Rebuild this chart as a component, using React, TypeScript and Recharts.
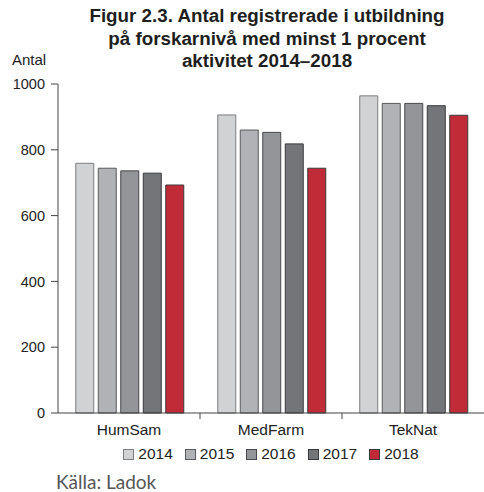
import { BarChart, Bar, XAxis, YAxis, Legend } from "recharts";

// Kategorier och värden (Antal registrerade)
const categories = ["HumSam", "MedFarm", "TekNat"];
const years = ["2014", "2015", "2016", "2017", "2018"];
const values2014 = [759, 906, 964];
const values2015 = [744, 860, 941];
const values2016 = [736, 853, 941];
const values2017 = [729, 818, 934];
const values2018 = [693, 744, 905];
const yTicks = [0, 200, 400, 600, 800, 1000];

const fills = ["#d1d2d4", "#b1b2b6", "#939598", "#747579", "#c12a37"];
const strokes = ["#7d7e80", "#58595c", "#48494c", "#38393c", "#3a3a3a"];

const seriesValues = [values2014, values2015, values2016, values2017, values2018];

const data = categories.map((name, i) => {
  const row: Record<string, string | number> = { name };
  years.forEach((y, k) => {
    row[y] = seriesValues[k][i];
  });
  return row;
});

const FONT = "'Liberation Sans', Arial, sans-serif";
const AXIS = "#444";
const CHART_W = 484;
const Y_W = 58;
const BAND_HALF = (CHART_W - Y_W) / categories.length / 2;

function CategoryTick({ x, y, payload, index }: any) {
  const axisY = y - 11;
  return (
    <g>
      <text
        x={x}
        y={y}
        dy="0.71em"
        textAnchor="middle"
        fill="#222"
        fontSize={15.5}
        fontFamily={FONT}
      >
        {payload.value}
      </text>
      {index > 0 && (
        <line
          x1={x - BAND_HALF}
          x2={x - BAND_HALF}
          y1={axisY}
          y2={axisY + 6}
          stroke={AXIS}
        />
      )}
    </g>
  );
}

function YearLegend() {
  return (
    <div
      style={{
        display: "flex",
        justifyContent: "center",
        alignItems: "center",
        height: 26,
        fontFamily: FONT,
        fontSize: 15.5,
        color: "#222",
      }}
    >
      {years.map((y, k) => (
        <div
          key={y}
          style={{ display: "flex", alignItems: "center", marginRight: k < years.length - 1 ? 12 : 0 }}
        >
          <span
            style={{
              width: 9,
              height: 9,
              background: fills[k],
              border: `1px solid ${strokes[k]}`,
              marginRight: 4,
              display: "inline-block",
            }}
          />
          <span>{y}</span>
        </div>
      ))}
    </div>
  );
}

export default function App() {
  return (
    <div
      style={{
        position: "absolute",
        left: 0,
        top: 0,
        width: 484,
        height: 492,
        background: "#fff",
        fontFamily: FONT,
        overflow: "hidden",
      }}
    >
      <div
        style={{
          position: "absolute",
          left: 67,
          top: 5,
          width: 400,
          textAlign: "center",
          fontWeight: "bold",
          fontSize: 18.8,
          lineHeight: "22.5px",
          color: "#1e1e1e",
          whiteSpace: "nowrap",
        }}
      >
        Figur 2.3. Antal registrerade i utbildning
        <br />
        på forskarnivå med minst 1 procent
        <br />
        aktivitet 2014–2018
      </div>
      <div
        style={{
          position: "absolute",
          left: 12,
          top: 51,
          fontSize: 15,
          color: "#222",
        }}
      >
        Antal
      </div>
      <div style={{ position: "absolute", left: 0, top: 0 }}>
        <BarChart
          width={CHART_W}
          height={471}
          data={data}
          margin={{ top: 84, right: 0, left: 0, bottom: 0 }}
          barCategoryGap="12.5%"
          barGap={4.5}
        >
          <XAxis
            dataKey="name"
            height={28}
            stroke={AXIS}
            tickLine={false}
            tickSize={6}
            tickMargin={5}
            tick={<CategoryTick />}
            interval={0}
          />
          <YAxis
            width={Y_W}
            domain={[0, 1000]}
            ticks={yTicks}
            interval={0}
            stroke={AXIS}
            tickSize={7}
            tickMargin={6}
            tick={{ fill: "#222", fontSize: 14.5, fontFamily: FONT }}
          />
          <Legend
            verticalAlign="bottom"
            height={30}
            wrapperStyle={{ left: Y_W, width: CHART_W - Y_W }}
            content={<YearLegend />}
          />
          {years.map((y, k) => (
            <Bar
              key={y}
              dataKey={y}
              fill={fills[k]}
              stroke={strokes[k]}
              strokeWidth={1}
              isAnimationActive={false}
            />
          ))}
        </BarChart>
      </div>
      <div
        style={{
          position: "absolute",
          left: 56,
          top: 470,
          fontFamily: "Lato, 'Open Sans', sans-serif",
          fontSize: 19,
          color: "#555",
        }}
      >
        Källa: Ladok
      </div>
    </div>
  );
}
